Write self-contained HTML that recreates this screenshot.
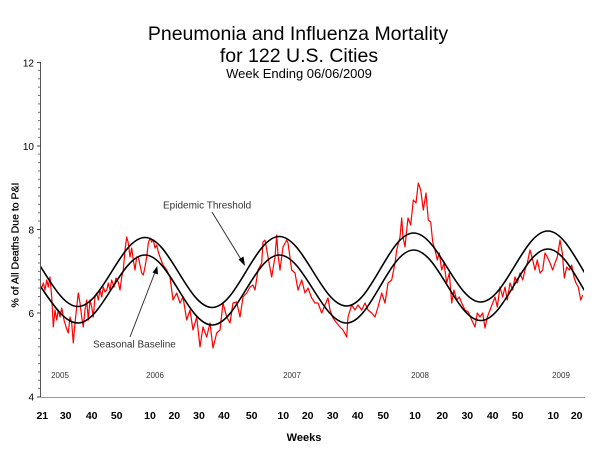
<!DOCTYPE html>
<html>
<head>
<meta charset="utf-8">
<style>
  html, body { margin:0; padding:0; background:#fff; }
  svg { display:block; }
  text { font-family: "Liberation Sans", Arial, sans-serif; }
</style>
</head>
<body>
<svg width="600" height="450" viewBox="0 0 600 450" xmlns="http://www.w3.org/2000/svg">
  <rect x="0" y="0" width="600" height="450" fill="#fff"/>
  <defs>
    <clipPath id="plot"><rect x="41" y="60" width="543" height="338"/></clipPath>
  </defs>

  <!-- Titles -->
  <text x="298" y="40" font-size="19.5" text-anchor="middle" fill="#000">Pneumonia and Influenza Mortality</text>
  <text x="299" y="62" font-size="19.5" text-anchor="middle" fill="#000">for 122 U.S. Cities</text>
  <text x="299" y="78" font-size="13" text-anchor="middle" fill="#000">Week Ending 06/06/2009</text>

  <!-- Y axis label -->
  <text transform="translate(18.5,245) rotate(-90)" font-size="10.5" text-anchor="middle" fill="#000" stroke="#000" stroke-width="0.25">% of All Deaths Due to P&amp;I</text>

  <!-- Y axis -->
  <line x1="40.5" y1="62" x2="40.5" y2="397.5" stroke="#555" stroke-width="1"/>
  <g stroke="#777" stroke-width="1">
    <line x1="38" y1="70.4" x2="40" y2="70.4"/><line x1="38" y1="78.8" x2="40" y2="78.8"/><line x1="38" y1="87.1" x2="40" y2="87.1"/><line x1="38" y1="95.5" x2="40" y2="95.5"/><line x1="38" y1="103.9" x2="40" y2="103.9"/><line x1="38" y1="112.3" x2="40" y2="112.3"/><line x1="38" y1="120.6" x2="40" y2="120.6"/><line x1="38" y1="129" x2="40" y2="129"/><line x1="38" y1="137.4" x2="40" y2="137.4"/>
    <line x1="38" y1="154.1" x2="40" y2="154.1"/><line x1="38" y1="162.5" x2="40" y2="162.5"/><line x1="38" y1="170.9" x2="40" y2="170.9"/><line x1="38" y1="179.3" x2="40" y2="179.3"/><line x1="38" y1="187.6" x2="40" y2="187.6"/><line x1="38" y1="196" x2="40" y2="196"/><line x1="38" y1="204.4" x2="40" y2="204.4"/><line x1="38" y1="212.8" x2="40" y2="212.8"/><line x1="38" y1="221.1" x2="40" y2="221.1"/>
    <line x1="38" y1="237.9" x2="40" y2="237.9"/><line x1="38" y1="246.3" x2="40" y2="246.3"/><line x1="38" y1="254.6" x2="40" y2="254.6"/><line x1="38" y1="263" x2="40" y2="263"/><line x1="38" y1="271.4" x2="40" y2="271.4"/><line x1="38" y1="279.8" x2="40" y2="279.8"/><line x1="38" y1="288.1" x2="40" y2="288.1"/><line x1="38" y1="296.5" x2="40" y2="296.5"/><line x1="38" y1="304.9" x2="40" y2="304.9"/>
    <line x1="38" y1="321.6" x2="40" y2="321.6"/><line x1="38" y1="330" x2="40" y2="330"/><line x1="38" y1="338.4" x2="40" y2="338.4"/><line x1="38" y1="346.8" x2="40" y2="346.8"/><line x1="38" y1="355.1" x2="40" y2="355.1"/><line x1="38" y1="363.5" x2="40" y2="363.5"/><line x1="38" y1="371.9" x2="40" y2="371.9"/><line x1="38" y1="380.3" x2="40" y2="380.3"/><line x1="38" y1="388.6" x2="40" y2="388.6"/>
  </g>
  <g stroke="#444" stroke-width="1">
    <line x1="37" y1="62.5" x2="41" y2="62.5"/>
    <line x1="37" y1="146" x2="41" y2="146"/>
    <line x1="37" y1="229.5" x2="41" y2="229.5"/>
    <line x1="37" y1="313" x2="41" y2="313"/>
    <line x1="37" y1="397" x2="41" y2="397"/>
  </g>
  <g font-size="10" text-anchor="end" fill="#000">
    <text x="34" y="66.5">12</text>
    <text x="34" y="150">10</text>
    <text x="34" y="233.5">8</text>
    <text x="34" y="317">6</text>
    <text x="34" y="400.5">4</text>
  </g>

  <!-- X axis -->
  <line x1="40" y1="397.5" x2="585" y2="397.5" stroke="#999" stroke-width="1"/>
  <g font-size="10.5" font-weight="bold" text-anchor="middle" fill="#000">
    <text x="42.3" y="419">21</text>
    <text x="65.7" y="419">30</text>
    <text x="91.7" y="419">40</text>
    <text x="116.7" y="419">50</text>
    <text x="150" y="419">10</text>
    <text x="174.3" y="419">20</text>
    <text x="199" y="419">30</text>
    <text x="224" y="419">40</text>
    <text x="251.7" y="419">50</text>
    <text x="283.3" y="419">10</text>
    <text x="307.7" y="419">20</text>
    <text x="332.7" y="419">30</text>
    <text x="357.7" y="419">40</text>
    <text x="383.3" y="419">50</text>
    <text x="415" y="419">10</text>
    <text x="442.3" y="419">20</text>
    <text x="467.3" y="419">30</text>
    <text x="492.7" y="419">40</text>
    <text x="517.7" y="419">50</text>
    <text x="553.3" y="419">10</text>
    <text x="576.7" y="419">20</text>
  </g>
  <text x="304" y="441" font-size="11" font-weight="bold" text-anchor="middle" fill="#000">Weeks</text>

  <!-- Year labels -->
  <g font-size="8" text-anchor="middle" fill="#333">
    <text x="60" y="378">2005</text>
    <text x="155" y="378">2006</text>
    <text x="292" y="378">2007</text>
    <text x="420" y="378">2008</text>
    <text x="561" y="378">2009</text>
  </g>

  <!-- Data series -->
  <g clip-path="url(#plot)">
    <polyline fill="none" stroke="#ff0000" stroke-width="1.2" stroke-linejoin="round" points="41.7,288 43.3,283 45,290 46.7,280 48.3,287 50,277 51.7,297 53.3,327 55,310 56.7,320 58.3,310 60,317 61.7,308 64,320 66,327 68.3,333 70,317 71.7,323 73.3,343 75,323 76.7,307 78.3,293 80,303 81.7,317 83.3,327 85,310 86.7,300 88.3,320 90,300 91.7,307 93.3,317 95,297 96.7,293 98.3,300 100,290 101.7,297 103.3,287 105,292 106.7,290 108.3,283 110,290 111.7,280 114,287 116,278 118.3,282 120,290 121.7,277 123.3,270 125,250 126.7,237 128.3,243 130,257 131.7,248 133.3,260 135,270 136.7,257 138.3,257 140,265 141.7,273 143.3,275 145,267 146.7,257 148.3,243 150,238 151.7,242 153.3,240 155,248 156.7,245 158.3,252 160,257 163,265 166.7,270 170,277 173,300 176.7,293 180,303 183,297 186.7,320 190,310 193,330 196.7,317 200,347 203,327 206.7,337 210,323 213,348 216.7,333 220,330 223,303 226.7,317 230,323 233,303 236.7,302 240,317 243,297 246.7,293 250,287 253,285 255,290 258,270 261.7,263 263,242 265,240 268,257 271.7,277 275,257 276.7,235 278,255 280,270 283,247 286.7,240 288,243 291.7,270 295,273 298,290 301.7,280 305,293 308,288 311.7,298 315,303 318,303 321.7,313 325,305 328,298 330,310 333,318 336.7,323 340,327 343,330 346.7,337 348,317 351.7,305 355,310 358,305 361.7,310 365,303 368,310 371.7,313 375,317 378,307 381.7,293 385,303 388,283 391.7,280 395,263 396.7,250 400,237 401.7,218 403,237 405,247 406.7,230 408,218 410.7,225 413.3,200 416,203 418.3,183 420.7,190 423.3,210 426,193 428.3,220 430.7,222 432.7,242 435,250 437.3,260 439.3,253 441.7,270 444,263 446.7,283 449.3,273 451.7,303 454,290 456.7,300 459.3,297 461.7,303 465,310 468.3,312 471.7,320 475,327 477.3,313 480,317 482.7,313 485,328 487.3,317 490,310 492.7,303 495,297 497.3,307 500,287 502.7,297 505,287 507.3,300 510,283 512.7,290 515,277 517.3,283 520,273 522.7,280 525,270 527.3,263 530,250 532.7,260 535,270 537.3,260 540,273 542.7,270 545,253 547.3,257 550,263 552.7,270 555,263 557.3,257 560,240 562.3,253 564.3,278 566.7,267 569.3,270 571.7,265 574,277 576,283 578.3,287 580.7,300 582.7,295"/>

    <!-- Epidemic threshold -->
    <path fill="none" stroke="#000" stroke-width="1.6" d="M 10.7 238.5 C 35.1 238.5, 53.5 306.5, 77.9 306.5 C 102.3 306.5, 120.6 237.5, 145 237.5 C 169.4 237.5, 187.8 307.5, 212.2 307.5 C 236.6 307.5, 254.9 236.5, 279.3 236.5 C 303.7 236.5, 322.1 306, 346.5 306 C 370.9 306, 389.2 233, 413.6 233 C 438 233, 456.4 302, 480.8 302 C 505.2 302, 523.5 231, 547.9 231 C 572.3 231, 590.7 304, 615.1 304"/>
    <!-- Seasonal baseline -->
    <path fill="none" stroke="#000" stroke-width="1.6" d="M 10.7 261 C 35.1 261, 53.5 323, 77.9 323 C 102.3 323, 120.6 255, 145 255 C 169.4 255, 187.8 325, 212.2 325 C 236.6 325, 254.9 255, 279.3 255 C 303.7 255, 322.1 323, 346.5 323 C 370.9 323, 389.2 250, 413.6 250 C 438 250, 456.4 320.5, 480.8 320.5 C 505.2 320.5, 523.5 249, 547.9 249 C 572.3 249, 590.7 322, 615.1 322"/>
  </g>

  <!-- Annotations -->
  <text x="163" y="208.5" font-size="10" fill="#333">Epidemic Threshold</text>
  <line x1="212" y1="212" x2="242" y2="261" stroke="#333" stroke-width="1"/>
  <polygon points="245,266 238.5,259.5 243.5,256.5" fill="#000"/>

  <text x="93" y="347.5" font-size="10" fill="#333">Seasonal Baseline</text>
  <line x1="130" y1="337" x2="155.5" y2="271" stroke="#333" stroke-width="1"/>
  <polygon points="157.3,266 152.5,272.5 158,274.5" fill="#000"/>
</svg>
</body>
</html>
